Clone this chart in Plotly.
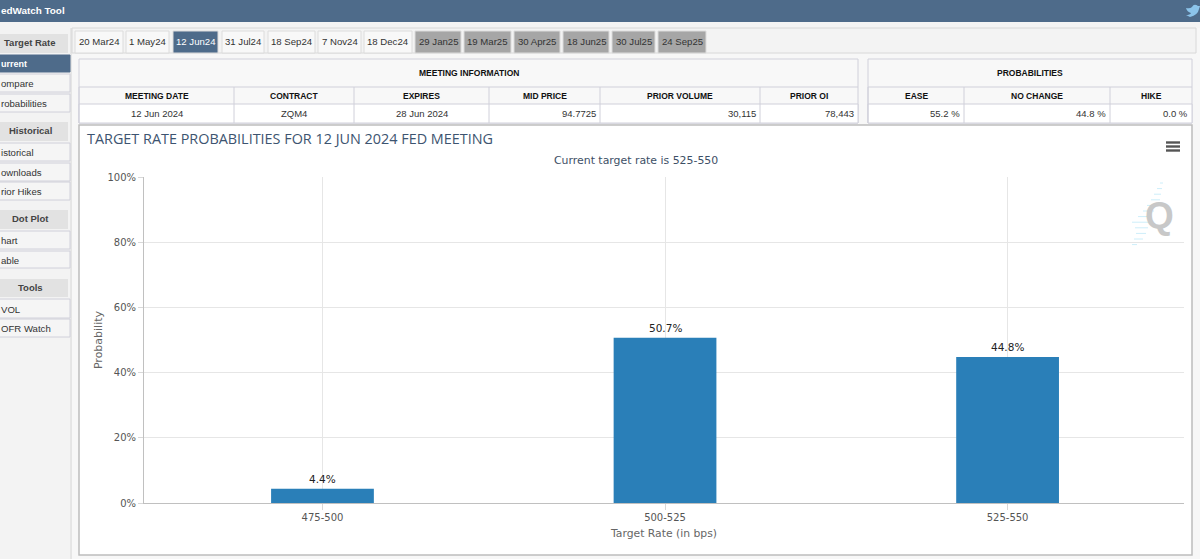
import plotly.graph_objects as go

W = 1200
H = 559
PLOT_L, PLOT_R, PLOT_T, PLOT_B = 144, 1184, 177, 503

# chart data
target_rates = ["475-500", "500-525", "525-550"]
probabilities = [4.4, 50.7, 44.8]
y_ticks = [0, 20, 40, 60, 80, 100]
y_tick_labels = ["0%", "20%", "40%", "60%", "80%", "100%"]

# page furniture text, the sidebar words are cut by the left edge of the screenshot
meeting_tabs = ["20 Mar24", "1 May24", "12 Jun24", "31 Jul24", "18 Sep24", "7 Nov24", "18 Dec24",
                "29 Jan25", "19 Mar25", "30 Apr25", "18 Jun25", "30 Jul25", "24 Sep25"]
tab_edges = [(75, 123), (126, 169), (173, 218), (222, 264), (268, 315), (318, 361), (364, 412),
             (415, 461), (464, 511), (514, 560), (563, 609), (612, 655), (658, 706)]
info_heads = ["MEETING DATE", "CONTRACT", "EXPIRES", "MID PRICE", "PRIOR VOLUME", "PRIOR OI"]
info_values = ["12 Jun 2024", "ZQM4", "28 Jun 2024", "94.7725", "30,115", "78,443"]
info_cols = [79, 234, 354, 489, 600, 760, 858]
prob_heads = ["EASE", "NO CHANGE", "HIKE"]
prob_values = ["55.2 %", "44.8 %", "0.0 %"]
prob_cols = [868, 964, 1110, 1192]
side_heads = [("Target Rate", 34, 53), ("Historical", 122, 141), ("Dot Plot", 210, 229), ("Tools", 279, 297)]
side_items = [("urrent", 55, 72), ("ompare", 74, 92), ("robabilities", 94, 112), ("istorical", 143, 161),
              ("ownloads", 163, 181), ("rior Hikes", 182, 200), ("hart", 231, 249), ("able", 251, 268),
              ("VOL", 299, 318), ("OFR Watch", 319, 337)]

HEADER = "#4e6b8a"
BORDER = "#d0d0da"
UI_TEXT = "#333333"
UI_FONT = "Liberation Sans"
CHART_FONT = "DejaVu Sans"


def px(x):
    return (x - PLOT_L) / (PLOT_R - PLOT_L)


def py(y):
    return (PLOT_B - y) / (PLOT_B - PLOT_T)


fig = go.Figure()
fig.add_trace(go.Bar(
    x=target_rates,
    y=probabilities,
    width=0.3,
    marker_color="#2a7fb8",
    marker_line_width=0,
    hoverinfo="skip",
))

# value labels sit a little higher than textposition="outside" puts them
for rate, value in zip(target_rates, probabilities):
    fig.add_annotation(x=rate, y=value, text=f"{value}%", showarrow=False, yanchor="bottom", yshift=2,
                       font=dict(family=CHART_FONT, size=10.5, color="#222222"))


def box(x0, y0, x1, y1, fill=None, line=None, width=1):
    fig.add_shape(type="rect", xref="paper", yref="paper", layer="below",
                  x0=px(x0), x1=px(x1), y0=py(y0), y1=py(y1),
                  fillcolor=fill or "rgba(0,0,0,0)",
                  line=dict(color=line or "rgba(0,0,0,0)", width=width if line else 0))


def label(text, x, y, size=9, color=UI_TEXT, bold=False, anchor="center", font=UI_FONT):
    fig.add_annotation(text=f"<b>{text}</b>" if bold else text, xref="paper", yref="paper",
                       x=px(x), y=py(y), xanchor=anchor, yanchor="middle", showarrow=False,
                       font=dict(family=font, size=size, color=color))


# page background pieces
box(0, 0, 1200, 22, fill=HEADER)
box(0, 22, 1200, 28, fill="#f4f4f4")
box(72, 28, 1196, 53, fill="#f3f3f3", line="#d8d8d8")
box(0, 22, 70, 559, fill="#f3f3f3")
fig.add_shape(type="line", xref="paper", yref="paper", layer="below", x0=px(71), x1=px(71), y0=py(28), y1=py(559),
              line=dict(color="#d4d4d4", width=1))
label("edWatch Tool", -1, 10, size=9.9, color="white", bold=True, anchor="left")

# twitter mark
fig.add_shape(type="path", xref="paper", yref="paper", layer="below",
              path=f"M {px(1186)} {py(8)} Q {px(1190)} {py(9)} {px(1192)} {py(7)} Q {px(1194)} {py(3)} {px(1198)} {py(6)} "
                   f"L {px(1200)} {py(6)} L {px(1199)} {py(9)} Q {px(1198)} {py(15)} {px(1190)} {py(17)} "
                   f"L {px(1186)} {py(15)} Q {px(1190)} {py(15)} {px(1191)} {py(13)} Q {px(1187)} {py(12)} {px(1186)} {py(8)} Z",
              fillcolor="#8cc4ea", line_width=0)

# tabs
for i, (name, (x0, x1)) in enumerate(zip(meeting_tabs, tab_edges)):
    selected = i == 2
    future = i >= 7
    fill = HEADER if selected else ("#a6a6a6" if future else "#f8f8f8")
    box(x0, 31, x1, 53, fill=fill, line="#dcdcdc")
    label(name, (x0 + x1) / 2, 42, size=9.6, color="white" if selected else UI_TEXT)

# sidebar
for name, y0, y1 in side_heads:
    box(-4, y0, 68, y1, fill="#e2e2e2")
    label(name, 30, (y0 + y1) / 2 - 1, size=9.5, bold=True, color="#444444")
for i, (name, y0, y1) in enumerate(side_items):
    selected = i == 0
    box(-4, y0, 70, y1, fill=HEADER if selected else "#f5f5f5", line=HEADER if selected else BORDER)
    label(name, -1, (y0 + y1) / 2 + 0.5, size=9 if selected else 9.6, bold=selected,
          color="white" if selected else UI_TEXT, anchor="left")


# info tables
def table(title, heads, values, cols, left_col_center=()):
    box(cols[0], 59, cols[-1], 123, fill="#f8f8f8", line=BORDER)
    box(cols[0], 104, cols[-1], 123, fill="white", line=BORDER)
    fig.add_shape(type="line", xref="paper", yref="paper", layer="below",
                  x0=px(cols[0]), x1=px(cols[-1]), y0=py(87), y1=py(87), line=dict(color=BORDER, width=1))
    label(title, (cols[0] + cols[-1]) / 2, 73, size=8.5, bold=True, color="#111111")
    for i, (head, value) in enumerate(zip(heads, values)):
        x0, x1 = cols[i], cols[i + 1]
        fig.add_shape(type="line", xref="paper", yref="paper", layer="below",
                      x0=px(x0), x1=px(x0), y0=py(87), y1=py(123), line=dict(color=BORDER, width=1))
        label(head, (x0 + x1) / 2, 96, size=8.5, bold=True, color="#111111")
        if i in left_col_center:
            label(value, (x0 + x1) / 2, 113, size=9.5)
        else:
            label(value, x1 - 2, 113, size=9.5, anchor="right")


table("MEETING INFORMATION", info_heads, info_values, info_cols, left_col_center=(0, 1, 2))
table("PROBABILITIES", prob_heads, prob_values, prob_cols)

# chart frame
box(79, 125, 1192, 555, fill="white", line="#bdbdbd", width=1.5)
label("Current target rate is 525-550", 636, 160, size=10.9, color="#3d4f66", font=CHART_FONT)

# export menu icon
for y in (142.5, 146.5, 150.5):
    fig.add_shape(type="line", xref="paper", yref="paper", x0=px(1166), x1=px(1180), y0=py(y), y1=py(y),
                  line=dict(color="#555555", width=2.4))

# Q watermark
for i, (x0, x1) in enumerate([(1160, 1163), (1157, 1162), (1154, 1161), (1151, 1160), (1147, 1158), (1143, 1154),
                              (1138, 1152), (1132, 1150), (1135, 1148), (1136, 1146), (1134, 1143), (1132, 1137)]):
    y = 183 + i * 5.6
    fig.add_shape(type="line", xref="paper", yref="paper", x0=px(x0), x1=px(x1), y0=py(y), y1=py(y),
                  line=dict(color="#cdeefa", width=1))
label("Q", 1159, 215, size=37, bold=True, color="#c8c8c8", font="Liberation Sans")

fig.update_layout(
    width=W,
    height=H,
    autosize=False,
    margin=dict(l=PLOT_L, r=W - PLOT_R, t=PLOT_T, b=H - PLOT_B, pad=0),
    paper_bgcolor="#f7f7f7",
    plot_bgcolor="rgba(0,0,0,0)",
    showlegend=False,
    bargap=0.7,
    title=dict(text="TARGET RATE PROBABILITIES FOR 12 JUN 2024 FED MEETING", x=87 / W, xanchor="left",
               y=1 - 139 / H, yanchor="middle", font=dict(family="Open Sans", size=14.4, color="#3d5470")),
    xaxis=dict(
        type="category",
        range=[-0.521, 2.515],
        showgrid=True,
        gridcolor="#e6e6e6",
        showline=True,
        linecolor="#c0c0c0",
        ticks="outside",
        ticklen=6,
        tickcolor="#d8d8d8",
        ticklabelstandoff=-1,
        tickfont=dict(family=CHART_FONT, size=10, color="#555555"),
        title=dict(text="Target Rate (in bps)", standoff=7, font=dict(family=CHART_FONT, size=10.8, color="#666666")),
        fixedrange=True,
    ),
    yaxis=dict(
        range=[0, 100],
        tickmode="array",
        tickvals=y_ticks,
        ticktext=y_tick_labels,
        showgrid=True,
        gridcolor="#e6e6e6",
        showline=True,
        linecolor="#c0c0c0",
        ticks="outside",
        ticklen=5,
        tickcolor="#d8d8d8",
        tickfont=dict(family=CHART_FONT, size=10, color="#555555"),
        title=dict(text="Probability", standoff=2, font=dict(family=CHART_FONT, size=11, color="#666666")),
        zeroline=False,
        fixedrange=True,
    ),
)

fig.write_html("out.html", config={"displayModeBar": False},
               post_script="document.body.style.margin='0';document.body.style.overflow='hidden';")
